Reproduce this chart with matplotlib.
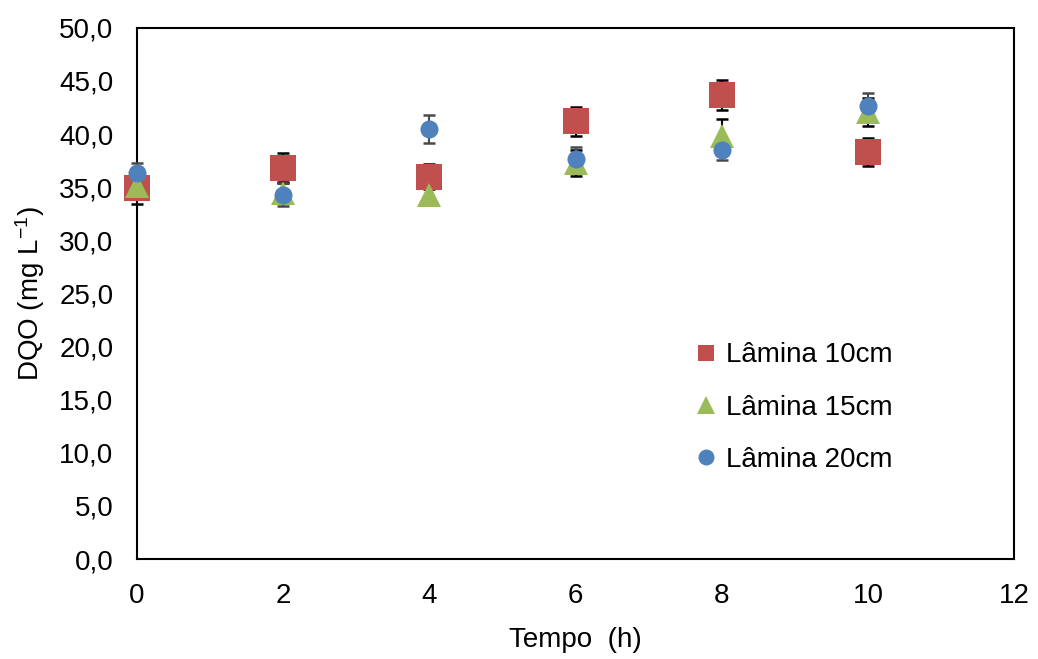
import matplotlib
matplotlib.use('Agg')
import matplotlib.pyplot as plt
import numpy as np

plt.rcParams['font.family'] = ['Liberation Sans', 'DejaVu Sans']
plt.rcParams['mathtext.fontset'] = 'custom'
plt.rcParams['mathtext.rm'] = 'Liberation Sans'
plt.rcParams['mathtext.it'] = 'Liberation Sans'

# Sampling times (h)
tempo = [0, 2, 4, 6, 8, 10]

# DQO (mg/L) per water depth, with standard deviation
dqo_10 = [34.9, 36.8, 36.0, 41.2, 43.7, 38.3]
err_10 = [1.5, 1.4, 1.2, 1.35, 1.4, 1.3]
dqo_15 = [35.1, 34.5, 34.3, 37.3, 39.8, 42.1]
err_15 = [1.0, 1.0, 1.0, 1.2, 1.6, 1.3]
dqo_20 = [36.3, 34.3, 40.5, 37.7, 38.5, 42.6]
err_20 = [1.0, 1.1, 1.3, 1.1, 0.9, 1.25]

yticks = [0, 5, 10, 15, 20, 25, 30, 35, 40, 45, 50]
xticks = [0, 2, 4, 6, 8, 10, 12]

fig = plt.figure(figsize=(10.38, 6.59), dpi=100)
ax = fig.add_axes([0.132, 0.1517, 0.845, 0.806])

# marker, colour, plot size, legend size, error bar colour, label
series = [
    (dqo_10, err_10, 's', '#C0504D', 19, 12, 'black', 'Lâmina 10cm'),
    (dqo_15, err_15, '^', '#9BBB59', 17, 13, 'black', 'Lâmina 15cm'),
    (dqo_20, err_20, 'o', '#4F81BD', 13, 11.5, '#4a4a4a', 'Lâmina 20cm'),
]

handles = []
for vals, errs, mk, col, ms, lms, ecol, lab in series:
    eb = ax.errorbar(tempo, vals, yerr=errs, fmt='none', ecolor=ecol,
                     elinewidth=1.5, capsize=4.3, capthick=1.8, zorder=2)
    for art in eb.lines[1] + eb.lines[2]:
        art.set_clip_on(False)
    h, = ax.plot(tempo, vals, linestyle='none', marker=mk, markersize=ms,
                 color=col, markeredgewidth=0, label=lab, zorder=3,
                 clip_on=False)
    handles.append(h)

ax.set_xlim(0, 12)
ax.set_ylim(0, 50)
ax.set_xticks(xticks)
ax.set_xticklabels([str(t) for t in xticks])
ax.set_yticks(yticks)
ax.set_yticklabels([f'{v:.1f}'.replace('.', ',') for v in yticks])
ax.tick_params(length=0, labelsize=20, pad=17)
for s in ax.spines.values():
    s.set_linewidth(1.5)
    s.set_color('black')
    s.set_zorder(1)

ax.set_xlabel('Tempo  (h)', fontsize=20, labelpad=13)
ax.set_ylabel('DQO (mg L$^{-1}$)', fontsize=20, labelpad=9)

leg = ax.legend(handles=handles, loc='upper left', bbox_to_anchor=(0.607, 0.455),
                frameon=False, fontsize=20, handlelength=0.8,
                handletextpad=0.35, labelspacing=0.95)
for lh, s in zip(leg.legend_handles, series):
    lh.set_markersize(s[5])

fig.savefig('out.png', dpi=100)
